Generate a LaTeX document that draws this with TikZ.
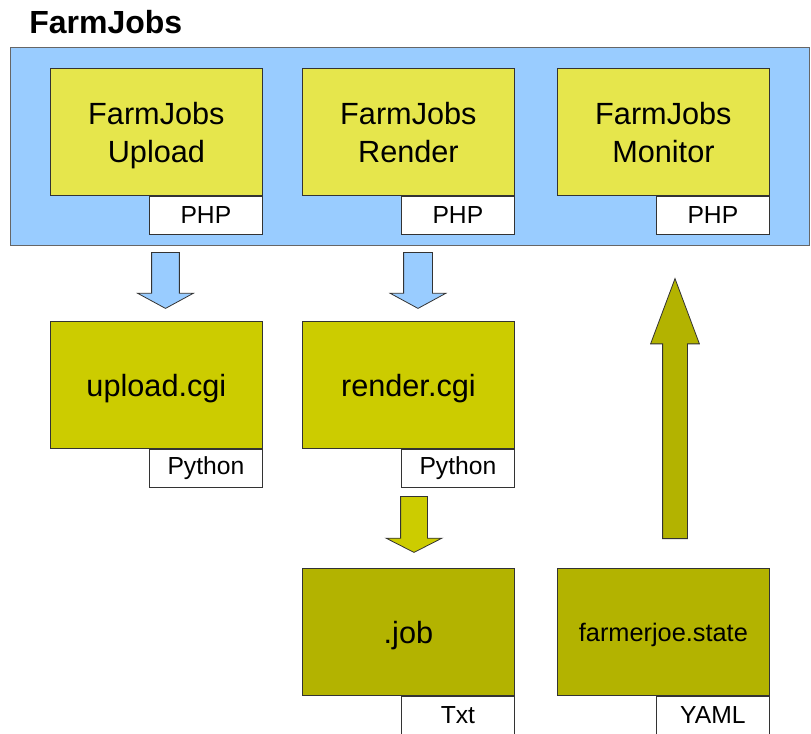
\documentclass[tikz,border=0pt]{standalone}
\usepackage{fontspec}
\setmainfont{Liberation Sans}
\usetikzlibrary{shapes.arrows}

\definecolor{jobsblue}{HTML}{99CCFF}
\definecolor{phpyellow}{HTML}{E6E64C}
\definecolor{cgiolive}{HTML}{CCCC00}
\definecolor{fileolive}{HTML}{B3B300}

\begin{document}
\begin{tikzpicture}[x=0.75pt, y=-0.75pt,
	appbox/.style={rectangle, draw=black!80, line width=0.6pt, minimum width=159pt, minimum height=95.25pt, anchor=north west, inner sep=0pt, text depth=0pt, align=center, font=\fontsize{23}{28.5}\selectfont},
	langtag/.style={rectangle, draw=black!80, fill=white, line width=0.6pt, minimum width=84.75pt, minimum height=28.5pt, anchor=north east, inner sep=0pt, font=\fontsize{18.5}{22}\selectfont},
	blockarrow/.style={single arrow, draw=black!80, line width=0.6pt, inner xsep=0pt, minimum width=0pt, anchor=tail}]

		\useasboundingbox (0,0) rectangle (811,733);

		\node[anchor=west, inner sep=0pt, font=\bfseries\fontsize{24}{28}\selectfont](title) at (29,22){FarmJobs};
		\node[rectangle, fill=jobsblue, draw=black!60, line width=0.75pt, minimum width=599.25pt, minimum height=148.5pt, anchor=north west](jobsPanel) at (10,47){};

		\node[appbox, fill=phpyellow](upload) at (50,68){FarmJobs\\Upload};
		\node[appbox, fill=phpyellow](render) at (302,68){FarmJobs\\Render};
		\node[appbox, fill=phpyellow](monitor) at (557,68){FarmJobs\\Monitor};
		\node[langtag](uploadTag) at (upload.south east){PHP};
		\node[langtag](renderTag) at (render.south east){PHP};
		\node[langtag](monitorTag) at (monitor.south east){PHP};

		\node[appbox, fill=cgiolive](uploadCgi) at (50,321){upload.cgi};
		\node[appbox, fill=cgiolive](renderCgi) at (302,321){render.cgi};
		\node[langtag](uploadCgiTag) at (uploadCgi.south east){Python};
		\node[langtag](renderCgiTag) at (renderCgi.south east){Python};

		\node[appbox, fill=fileolive](jobFile) at (302,568){.job};
		\node[appbox, fill=fileolive, font=\fontsize{19}{23}\selectfont](stateFile) at (557,568){farmerjoe.state};
		\node[langtag](jobTag) at (jobFile.south east){Txt};
		\node[langtag](stateTag) at (stateFile.south east){YAML};

		\node[blockarrow, fill=jobsblue, rotate=-90, inner ysep=10.1pt, single arrow head extend=10.5pt, minimum height=42pt, single arrow tip angle=123](uploadArrow) at (165.5,252){};
		\node[blockarrow, fill=jobsblue, rotate=-90, inner ysep=10.5pt, single arrow head extend=10.1pt, minimum height=42pt, single arrow tip angle=123](renderArrow) at (418,252){};
		\node[blockarrow, fill=cgiolive, rotate=-90, inner ysep=9.75pt, single arrow head extend=10.9pt, minimum height=42pt, single arrow tip angle=126](jobArrow) at (414,496){};
		\node[blockarrow, fill=fileolive, rotate=90, inner ysep=9pt, single arrow head extend=9pt, minimum height=195pt, single arrow tip angle=41](stateArrow) at (675,539){};

	\end{tikzpicture}
\end{document}
